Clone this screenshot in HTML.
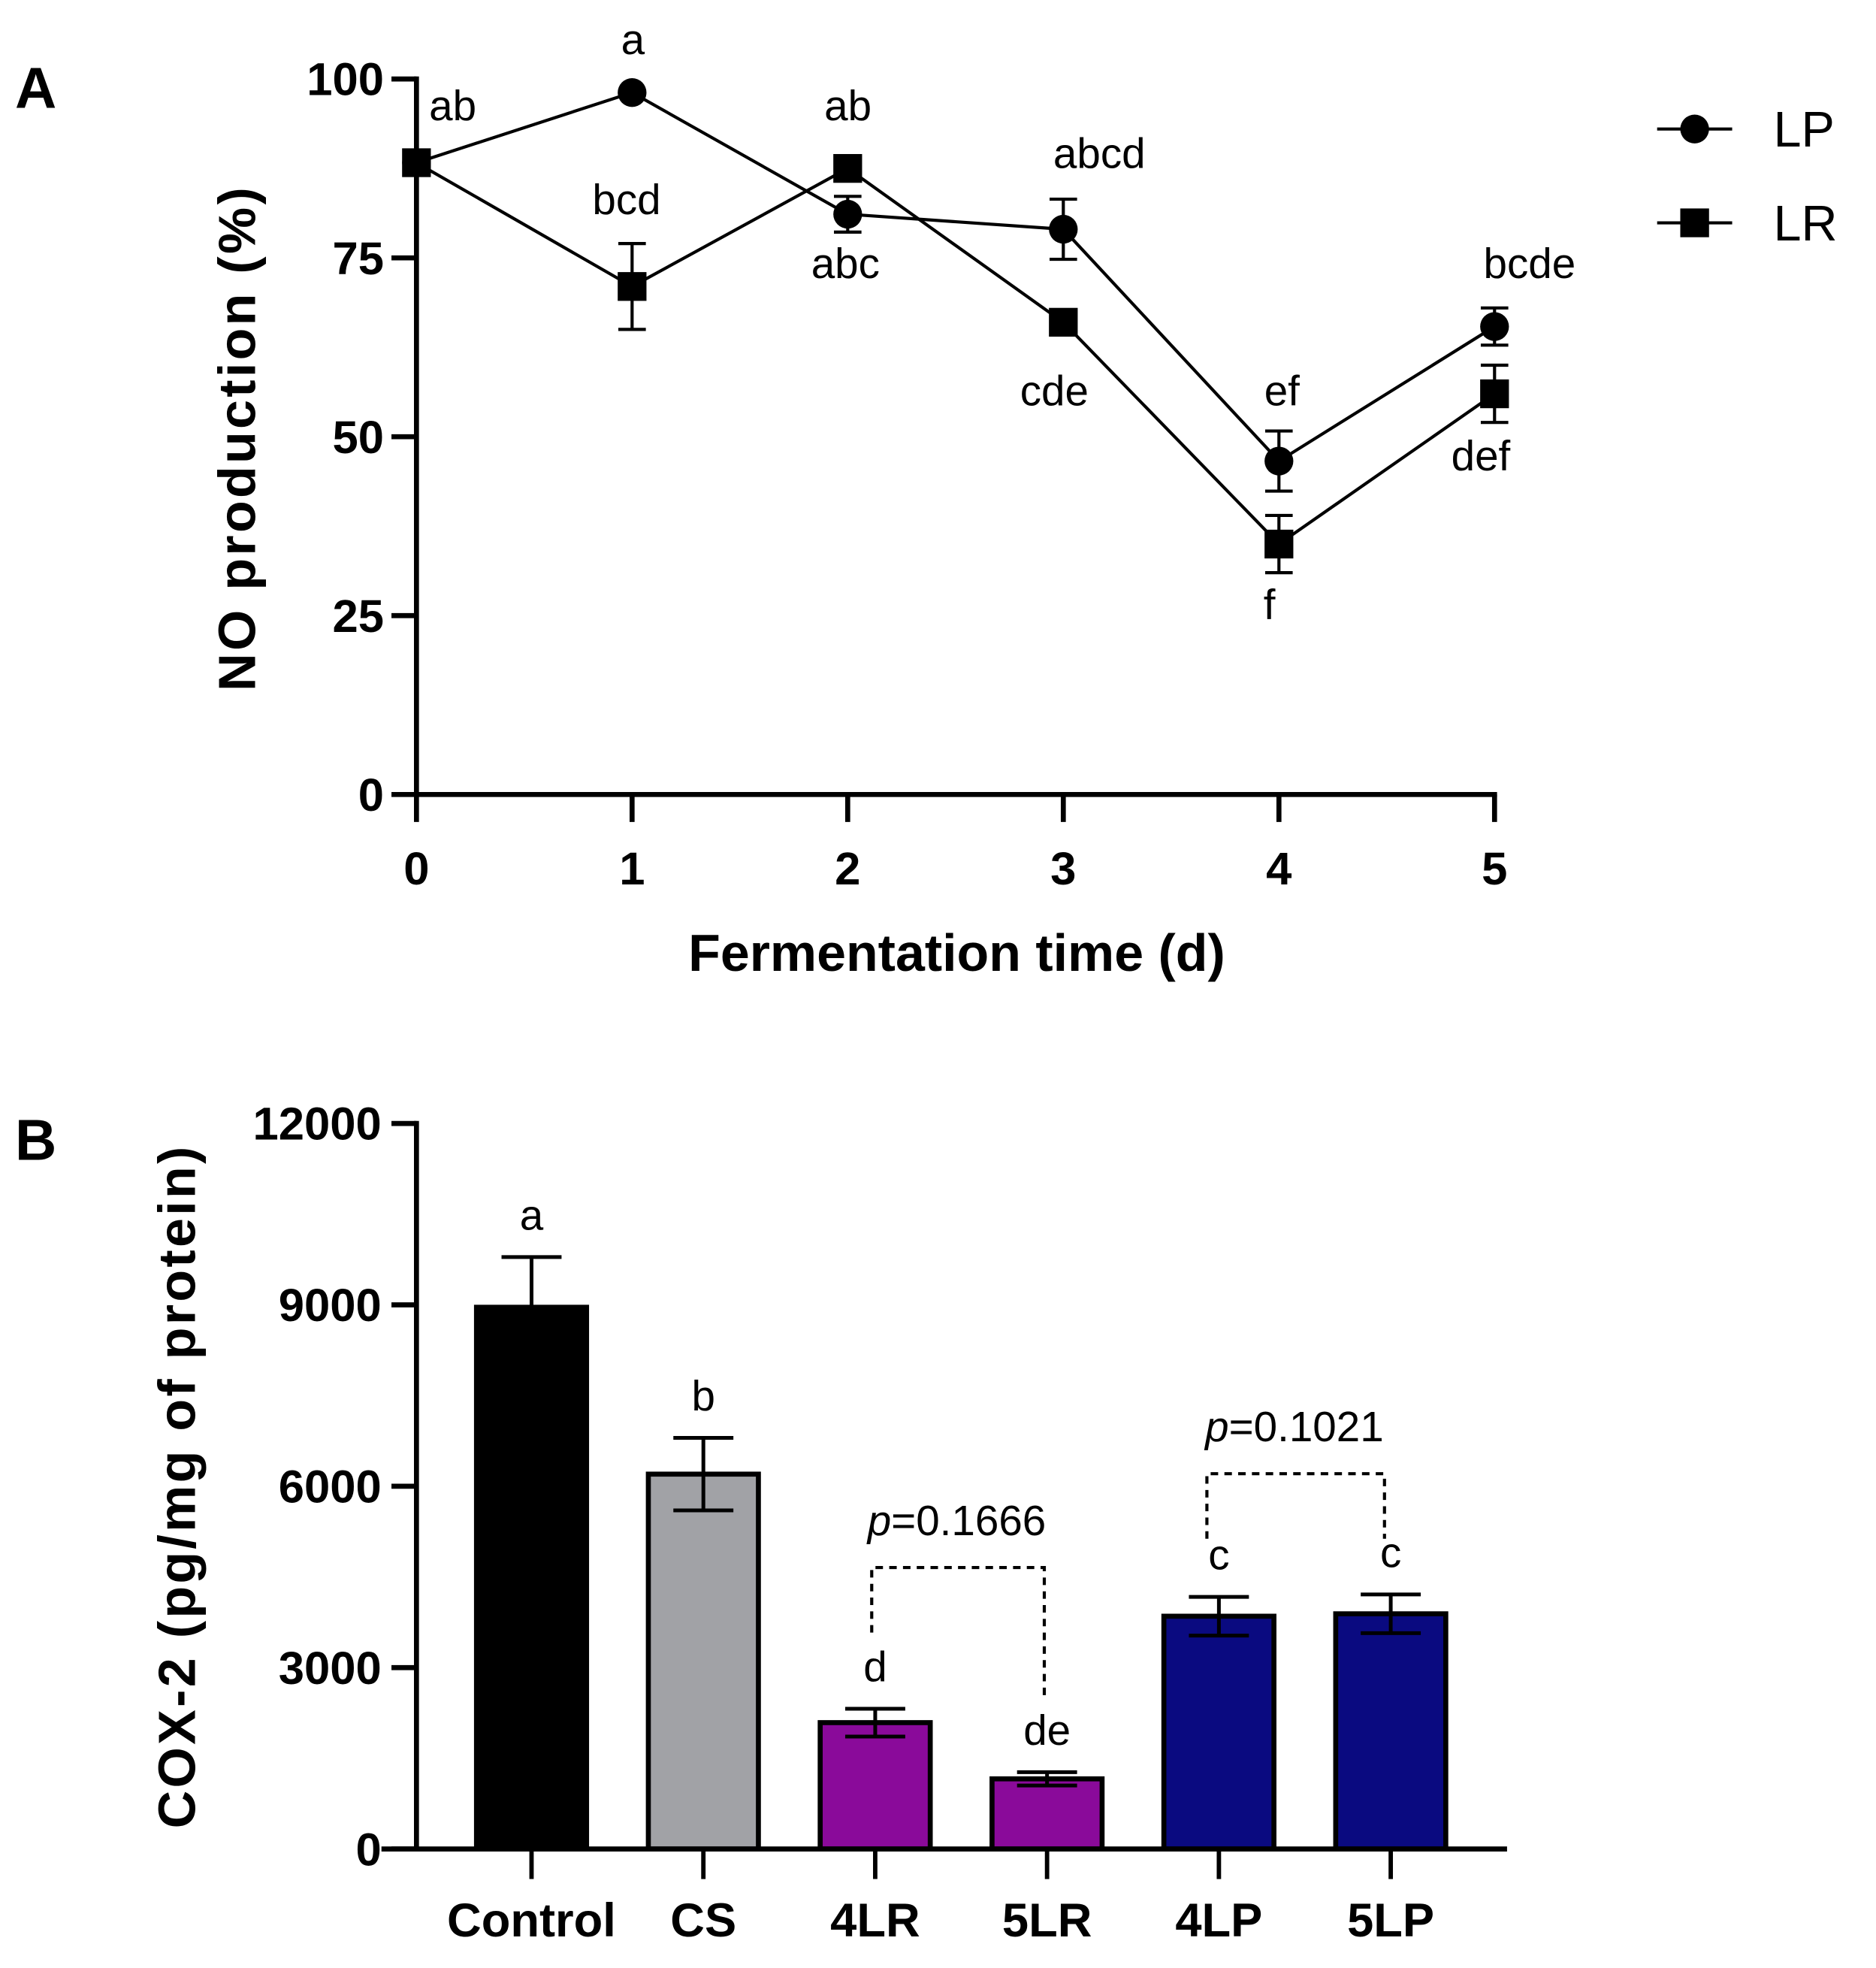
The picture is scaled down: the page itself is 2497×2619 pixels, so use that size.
<!DOCTYPE html>
<html><head><meta charset="utf-8"><style>
html,body{margin:0;padding:0;background:#fff}
svg{display:block}
text{font-family:"Liberation Sans",Arial,sans-serif;fill:#000}
</style></head><body>
<svg id="fig" width="2497" height="2619" viewBox="0 0 1500 1573" xmlns="http://www.w3.org/2000/svg">
<g id="panelA"></g>
<g id="panelB"></g>
</svg>
<script>
// Panel A data
const daysA = [0,1,2,3,4,5];
const lpVals = [88.3,98.1,81.1,79,46.6,65.4];
const lpErr = [0,0,2.5,4.2,4.2,2.6];
const lrVals = [88.3,71,87.5,66,35,56];
const lrErr = [0,6,0,0,4,4];
const yTicksA = [0,25,50,75,100];
const lpLetters = ["ab","a","abc","abcd","ef","bcde"];
const lrLetters = ["","bcd","ab","cde","f","def"];
// Panel B data
const groupsB = ["Control","CS","4LR","5LR","4LP","5LP"];
const coxVals = [8960,6200,2090,1160,3850,3890];
const coxErr = [830,600,230,110,320,320];
const coxLetters = ["a","b","d","de","c","c"];
const yTicksB = [0,3000,6000,9000,12000];
const barColors = ["#000000","#a1a2a6","#8a0a9a","#8a0a9a","#0a0a80","#0a0a80"];

const NS="http://www.w3.org/2000/svg";
function mk(parent,tag,attrs,txt){const e=document.createElementNS(NS,tag);for(const k in attrs)e.setAttribute(k,attrs[k]);if(txt!==undefined)e.textContent=txt;parent.appendChild(e);return e;}

// ---- Panel A
const A=document.getElementById('panelA');
const xA=d=>333+d*(1195-333)/5;
const yA=v=>635-v*(635-63)/100;
let t;
t=mk(A,'text',{x:12,y:86,'font-size':46,'font-weight':'bold'},'A');


let ax=mk(A,'path',{d:`M${xA(0)},${yA(100)-2} V${yA(0)} H${xA(5)+2}`,stroke:'#000','stroke-width':4,fill:'none'});


yTicksA.forEach(v=>{
  const l=mk(A,'line',{x1:xA(0)-20,x2:xA(0),y1:yA(v),y2:yA(v),stroke:'#000','stroke-width':4});
  
  
  const tx=mk(A,'text',{x:xA(0)-26,y:yA(v)+13,'font-size':37,'font-weight':'bold','text-anchor':'end'},String(v));
  
  
});
daysA.forEach(d=>{
  const l=mk(A,'line',{x1:xA(d),x2:xA(d),y1:yA(0),y2:yA(0)+22,stroke:'#000','stroke-width':4});
  
  
  const tx=mk(A,'text',{x:xA(d),y:707,'font-size':37,'font-weight':'bold','text-anchor':'middle'},String(d));
  
  
});
t=mk(A,'text',{x:765,y:776,'font-size':42,'font-weight':'bold','text-anchor':'middle'},'Fermentation time (d)');


t=mk(A,'text',{x:0,y:0,'font-size':42,'font-weight':'bold','text-anchor':'middle',transform:'translate(204,350) rotate(-90)','letter-spacing':'2'},'NO production (%)');



function series(vals,errs,name,marker){
  const g=mk(A,'g',{});
  
  
  const pl=mk(g,'polyline',{points:daysA.map((d,i)=>xA(d)+','+yA(vals[i])).join(' '),fill:'none',stroke:'#000','stroke-width':2.5});
  
  
  daysA.forEach((d,i)=>{
    if(errs[i]>0){
      const x=xA(d),y1=yA(vals[i]+errs[i]),y2=yA(vals[i]-errs[i]);
      const e=mk(g,'path',{d:`M${x},${y1}V${y2}M${x-11},${y1}H${x+11}M${x-11},${y2}H${x+11}`,stroke:'#000','stroke-width':2.5,fill:'none'});
      
      
    }
    let m;
    if(marker==='circle') m=mk(g,'circle',{cx:xA(d),cy:yA(vals[i]),r:11.5,fill:'#000'});
    else m=mk(g,'rect',{x:xA(d)-11.5,y:yA(vals[i])-11.5,width:23,height:23,fill:'#000'});
    
    
  });
}
series(lrVals,lrErr,'lr','square');
series(lpVals,lpErr,'lp','circle');
// letters
const lpLetterPos=[[362,96],[506,43],[676,222],[879,134],[1025,324],[1223,222]];
const lrLetterPos=[null,[501,171],[678,96],[843,324],[1015,495],[1184,376]];
lpLetters.forEach((s,i)=>{if(!s)return;const tx=mk(A,'text',{x:lpLetterPos[i][0],y:lpLetterPos[i][1],'font-size':34,'text-anchor':'middle'},s);
  
  });
lrLetters.forEach((s,i)=>{if(!s)return;const tx=mk(A,'text',{x:lrLetterPos[i][0],y:lrLetterPos[i][1],'font-size':34,'text-anchor':'middle'},s);
  
  });
// legend
[['LP',103,'circle'],['LR',178,'square']].forEach(([lab,y,mkr])=>{
  const g=mk(A,'g',{});
  
  
  mk(g,'line',{x1:1325,x2:1385,y1:y,y2:y,stroke:'#000','stroke-width':2.5});
  if(mkr==='circle') mk(g,'circle',{cx:1355,cy:y,r:11.5,fill:'#000'});
  else mk(g,'rect',{x:1343.5,y:y-11.5,width:23,height:23,fill:'#000'});
  mk(g,'text',{x:1418,y:y+14,'font-size':40},lab);
});

// ---- Panel B
const B=document.getElementById('panelB');
const yB=v=>1478-v*(1478-898)/12000;
const xB=i=>425+i*137.4;
t=mk(B,'text',{x:12,y:927,'font-size':46,'font-weight':'bold'},'B');


groupsB.forEach((gname,i)=>{
  const x=xB(i),top=yB(coxVals[i]);
  const r=mk(B,'rect',{x:x-44,y:top,width:88,height:yB(0)-top,fill:barColors[i],stroke:'#000','stroke-width':4});
  
  
  const y1=yB(coxVals[i]+coxErr[i]),y2=yB(coxVals[i]-coxErr[i]);
  const e=mk(B,'path',{d:`M${x},${y1}V${y2}M${x-24},${y1}H${x+24}M${x-24},${y2}H${x+24}`,stroke:'#000','stroke-width':3,fill:'none'});
  
  
  const lt=mk(B,'text',{x:x,y:y1-22,'font-size':34,'text-anchor':'middle'},coxLetters[i]);
  
  
  const tk=mk(B,'line',{x1:x,x2:x,y1:yB(0),y2:yB(0)+24,stroke:'#000','stroke-width':3.5});
  
  
  const tl=mk(B,'text',{x:x,y:1548,'font-size':38,'font-weight':'bold','text-anchor':'middle'},gname);
  
  
});
ax=mk(B,'path',{d:`M333,${yB(12000)-2} V${yB(0)} M305,${yB(0)} H1205`,stroke:'#000','stroke-width':4,fill:'none'});


yTicksB.forEach(v=>{
  const l=mk(B,'line',{x1:313,x2:333,y1:yB(v),y2:yB(v),stroke:'#000','stroke-width':4});
  
  
  const tx=mk(B,'text',{x:305,y:yB(v)+13,'font-size':37,'font-weight':'bold','text-anchor':'end'},String(v));
  
  
});
t=mk(B,'text',{x:0,y:0,'font-size':42,'font-weight':'bold','text-anchor':'middle',transform:'translate(156,1188) rotate(-90)','letter-spacing':'2'},'COX-2 (pg/mg of protein)');


// brackets
[[697,835,1253,1305,1355,'p=0.1666',765,1227],[965,1107,1178,1230,1230,'p=0.1021',1035,1152]].forEach(([x1,x2,yt,yl,yr,lab,tx,ty])=>{
  const p=mk(B,'path',{d:`M${x1},${yl}V${yt}H${x2}V${yr}`,stroke:'#000','stroke-width':2.5,fill:'none','stroke-dasharray':'6,5'});
  
  
  const t2=mk(B,'text',{x:tx,y:ty,'font-size':34,'text-anchor':'middle'});
  
  
  mk(t2,'tspan',{'font-style':'italic'},'p');
  mk(t2,'tspan',{},lab.slice(1));
});
</script>
</body></html>
